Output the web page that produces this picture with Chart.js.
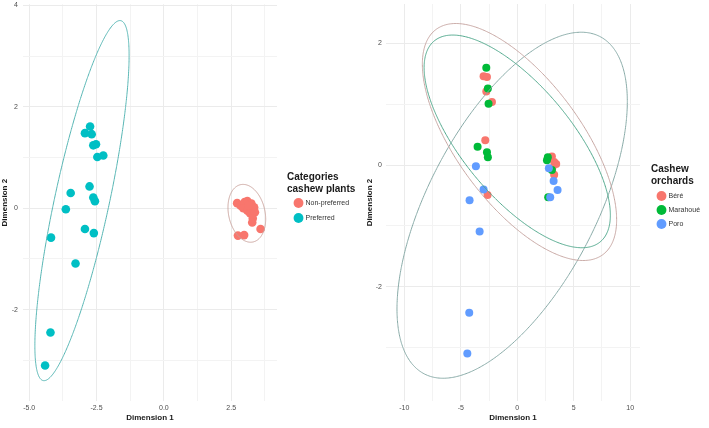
<!DOCTYPE html>
<html>
<head>
<meta charset="utf-8">
<script src="https://cdn.jsdelivr.net/npm/chart.js@4/dist/chart.umd.min.js"></script>
<style>
  body { margin: 0; background: #fff; }
  canvas { position: absolute; top: 0; }
  #left { left: 0; }
  #right { left: 355px; }
</style>
</head>
<body>
<canvas id="left" width="355" height="428"></canvas>
<canvas id="right" width="354" height="428"></canvas>
<script>
// left panel: categories of cashew plants
const nonPreferredX = [2.72, 2.85, 3.0, 3.1, 3.25, 3.35, 2.95, 3.1, 3.2, 3.38, 3.3, 3.28, 3.59, 2.75, 2.98, 3.15];
const nonPreferredY = [0.10, 0.05, 0.12, 0.14, 0.09, 0.02, 0.0, -0.05, -0.1, -0.08, -0.2, -0.28, -0.41, -0.54, -0.53, 0.05];
const preferredX = [-2.74, -2.93, -2.68, -2.62, -2.52, -2.47, -2.25, -2.76, -3.46, -2.62, -2.56, -3.64, -4.19, -2.93, -2.60, -3.28, -4.21, -4.41];
const preferredY = [1.61, 1.48, 1.46, 1.24, 1.26, 1.01, 1.04, 0.43, 0.30, 0.21, 0.14, -0.02, -0.58, -0.41, -0.49, -1.09, -2.45, -3.10];

// right panel: cashew orchards
const bereX = [-2.98, -2.68, -2.74, -2.24, -2.83, -2.63, 3.07, 3.27, 3.45, 3.27, 2.9, 3.1];
const bereY = [1.46, 1.45, 1.21, 1.04, 0.41, -0.49, 0.14, 0.05, 0.02, -0.16, 0.12, -0.05];
const marahoueX = [-2.74, -2.6, -2.54, -3.51, -2.68, -2.6, 2.71, 2.63, 3.07, 2.74];
const marahoueY = [1.60, 1.26, 1.01, 0.30, 0.21, 0.13, 0.13, 0.08, -0.08, -0.53];
const poroX = [-3.66, -2.98, -4.22, -3.33, -4.25, -4.42, 2.8, 3.22, 3.57, 2.92];
const poroY = [-0.02, -0.40, -0.58, -1.09, -2.43, -3.10, -0.05, -0.26, -0.41, -0.53];

// ellipses: centre x, centre y, sxx, sxy, syy
const preferredEllipse = [-3.04, 0.15, 3.06, 5.0, 12.6];
const nonPreferredEllipse = [3.08, -0.10, 0.49, -0.08, 0.325];
const bereEllipse = [0.2, 0.38, 74, -11, 3.8];
const marahoueEllipse = [0.0, 0.39, 68, -10, 3.06];
const poroEllipse = [-0.45, -0.66, 104, 17.4, 8.1];

// ticks
const leftXTicks = [-5, -2.5, 0, 2.5];
const leftXLabels = ['-5.0', '-2.5', '0.0', '2.5'];
const leftXMinor = [-3.75, -1.25, 1.25, 3.75];
const leftYTicks = [-2, 0, 2, 4];
const leftYLabels = ['-2', '0', '2', '4'];
const leftYMinor = [-3, -1, 1, 3];
const rightXTicks = [-10, -5, 0, 5, 10];
const rightXLabels = ['-10', '-5', '0', '5', '10'];
const rightXMinor = [-7.5, -2.5, 2.5, 7.5];
const rightYTicks = [-2, 0, 2];
const rightYLabels = ['-2', '0', '2'];
const rightYMinor = [-3, -1, 1];

Chart.defaults.font.family = "'Liberation Sans', Arial, sans-serif";

function pairs(xs, ys) {
  return xs.map((x, i) => ({ x: x, y: ys[i] }));
}

function ellipseLine(p) {
  const [cx, cy, sxx, sxy, syy] = p;
  const a = Math.sqrt(sxx);
  const c = sxy / a;
  const d = Math.sqrt(syy - c * c);
  const pts = [];
  for (let i = 0; i <= 160; i++) {
    const t = i / 160 * 2 * Math.PI;
    pts.push({ x: cx + a * Math.cos(t), y: cy + c * Math.cos(t) + d * Math.sin(t) });
  }
  return pts;
}

function points(label, xs, ys, color, r, order) {
  return {
    type: 'scatter', label: label, data: pairs(xs, ys), order: order,
    backgroundColor: color, borderColor: color, borderWidth: 0,
    pointRadius: r, pointHoverRadius: r
  };
}

// small tension so chart.js does not use the x-sorted fast path
function ellipse(p, color) {
  return {
    type: 'line', label: '', data: ellipseLine(p), order: 0,
    borderColor: color, borderWidth: 1, pointRadius: 0, showLine: true, fill: false, tension: 0.1
  };
}

// keep the plot panel exactly where the layout padding puts it
function fixSize(w, h) {
  return (s) => {
    if (w) s.width = w;
    if (h) s.height = h;
    s.paddingTop = 0; s.paddingBottom = 0;
    s.paddingLeft = 0; s.paddingRight = 0;
  };
}

function axis(major, minor, labels, min, max, title, opts) {
  return {
    type: 'linear', min: min, max: max,
    border: { display: false },
    grid: {
      drawTicks: false,
      color: (ctx) => major.includes(ctx.tick.value) ? '#ebebeb' : '#f3f3f3'
    },
    afterBuildTicks: (scale) => {
      scale.ticks = major.concat(minor).sort((a, b) => a - b).map(v => ({ value: v }));
    },
    ticks: {
      autoSkip: false, maxRotation: 0, padding: opts.tickPad,
      color: '#4d4d4d', font: { size: 7 },
      callback: (v) => { const i = major.indexOf(v); return i < 0 ? '' : labels[i]; }
    },
    title: {
      display: true, text: title, color: '#1a1a1a',
      font: { size: 8, weight: 'bold' }, padding: opts.titlePad
    },
    afterFit: opts.fit
  };
}

function pinLegend(x, y) {
  return {
    id: 'pinLegend',
    afterLayout(chart) {
      const lg = chart.legend;
      lg.left = x; lg.top = y;
      lg.right = chart.width; lg.bottom = chart.height;
    }
  };
}

function legendOpts(titleLines, pad, titleBottom) {
  return {
    position: 'chartArea', align: 'start',
    labels: {
      usePointStyle: true, pointStyle: 'circle', boxWidth: 7, boxHeight: 7,
      padding: pad, color: '#333', font: { size: 7 },
      filter: (item) => item.text !== '',
      sort: (a, b) => a.datasetIndex - b.datasetIndex
    },
    title: {
      display: true, text: titleLines, position: 'start', color: '#1a1a1a',
      font: { size: 10, weight: 'bold', lineHeight: 1.2 },
      padding: { top: 0, bottom: titleBottom }
    }
  };
}

new Chart(document.getElementById('left'), {
  type: 'scatter',
  data: {
    datasets: [
      points('Non-preferred', nonPreferredX, nonPreferredY, '#F8766D', 4.3, 2),
      points('Preferred', preferredX, preferredY, '#00BFC4', 4.3, 1),
      ellipse(nonPreferredEllipse, '#c9a29c'),
      ellipse(preferredEllipse, '#55b5b3')
    ]
  },
  options: {
    responsive: false, animation: false,
    layout: { padding: { left: 0, top: 4, right: 78, bottom: 0 } },
    scales: {
      x: axis(leftXTicks, leftXMinor, leftXLabels, -5.23, 4.2, 'Dimension 1',
        { tickPad: 3, titlePad: { top: 0, bottom: 5 }, fit: fixSize(0, 27) }),
      y: axis(leftYTicks, leftYMinor, leftYLabels, -3.8, 4.02, 'Dimension 2',
        { tickPad: 5, titlePad: { top: 0, bottom: 0 }, fit: fixSize(23, 0) })
    },
    plugins: {
      legend: legendOpts(['Categories', 'cashew plants'], 8, 7.5),
      tooltip: { enabled: false }
    }
  },
  plugins: [pinLegend(287, 172)]
});

new Chart(document.getElementById('right'), {
  type: 'scatter',
  data: {
    datasets: [
      points('Béré', bereX, bereY, '#F8766D', 4, 3),
      points('Marahoué', marahoueX, marahoueY, '#00BA38', 4, 2),
      points('Poro', poroX, poroY, '#619CFF', 4, 1),
      ellipse(bereEllipse, '#c6a5a1'),
      ellipse(marahoueEllipse, '#4fa78b'),
      ellipse(poroEllipse, '#88aaa7')
    ]
  },
  options: {
    responsive: false, animation: false,
    layout: { padding: { left: 0, top: 4, right: 69, bottom: 0 } },
    scales: {
      x: axis(rightXTicks, rightXMinor, rightXLabels, -11.62, 10.87, 'Dimension 1',
        { tickPad: 3, titlePad: { top: 0, bottom: 5 }, fit: fixSize(0, 27) }),
      y: axis(rightYTicks, rightYMinor, rightYLabels, -3.88, 2.65, 'Dimension 2',
        { tickPad: 4, titlePad: { top: 10, bottom: 0 }, fit: fixSize(31, 0) })
    },
    plugins: {
      legend: legendOpts(['Cashew', 'orchards'], 7, 9.5),
      tooltip: { enabled: false }
    }
  },
  plugins: [pinLegend(296, 164)]
});
</script>
</body>
</html>
